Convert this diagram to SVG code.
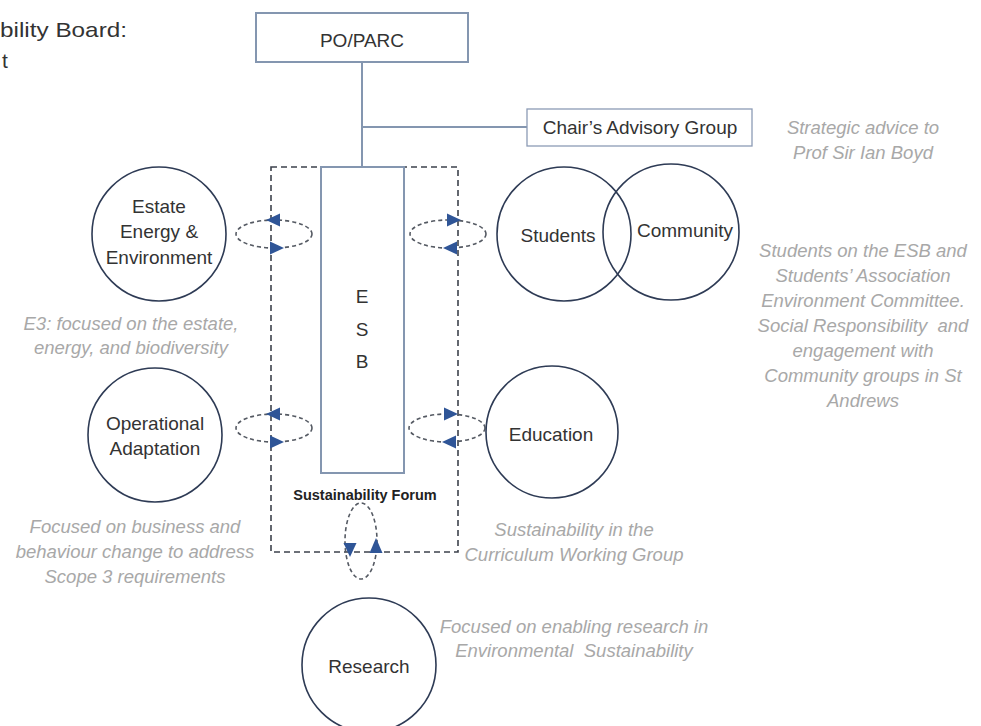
<svg xmlns="http://www.w3.org/2000/svg" width="981" height="726" viewBox="0 0 981 726">
<style>
.lbl{font-family:"Liberation Sans",Arial,sans-serif;font-size:19px;fill:#333;text-anchor:middle}
.note{font-family:"Liberation Sans",Arial,sans-serif;font-size:18.5px;font-style:italic;fill:#a8a8a8;text-anchor:middle}
.circ{fill:none;stroke:#2e3b55;stroke-width:1.6}
.box{fill:#fff;stroke:#8496b0;stroke-width:2}
.conn{stroke:#8496b0;stroke-width:2;fill:none}
.dbox{fill:none;stroke:#3d424c;stroke-width:1.6;stroke-dasharray:6 4}
.loop{fill:none;stroke:#555a63;stroke-width:1.6;stroke-dasharray:4 3}
.arr{fill:#2f5597}
</style>
<rect width="981" height="726" fill="#fff"/>
<g id="title">
<text x="0" y="37" font-family="Liberation Sans,Arial,sans-serif" font-size="21" fill="#333" textLength="127" lengthAdjust="spacingAndGlyphs">bility Board:</text>
<text x="2" y="68" font-family="Liberation Sans,Arial,sans-serif" font-size="21" fill="#333">t</text>
</g>
<g id="forum">
<rect class="dbox" x="271" y="167" width="187" height="385"/>
<text x="365" y="500" font-family="Liberation Sans,Arial,sans-serif" font-size="14.5" font-weight="bold" fill="#222" text-anchor="middle">Sustainability Forum</text>
</g>
<g id="connectors">
<line class="conn" x1="362" y1="62" x2="362" y2="167"/>
<line class="conn" x1="362" y1="127" x2="527" y2="127"/>
<ellipse class="loop" cx="274" cy="234" rx="38" ry="14"/>
<polygon class="arr" points="266,220 280,213.5 280,226.5"/>
<polygon class="arr" points="284,248 270,241.5 270,254.5"/>
<ellipse class="loop" cx="448" cy="234" rx="38" ry="14"/>
<polygon class="arr" points="461,220 447,213.5 447,226.5"/>
<polygon class="arr" points="443,248 457,241.5 457,254.5"/>
<ellipse class="loop" cx="274" cy="428" rx="38" ry="14"/>
<polygon class="arr" points="266,414 280,407.5 280,420.5"/>
<polygon class="arr" points="284,442 270,435.5 270,448.5"/>
<ellipse class="loop" cx="447" cy="428" rx="38" ry="14"/>
<polygon class="arr" points="458,414 444,407.5 444,420.5"/>
<polygon class="arr" points="442,442 456,435.5 456,448.5"/>
<ellipse class="loop" cx="361" cy="541" rx="16" ry="38"/>
<polygon class="arr" points="350,557 343.5,543 356.5,543"/>
<polygon class="arr" points="376,538 369.5,553 382.5,553"/>
</g>
<g id="po-parc">
<rect class="box" x="256" y="13" width="212" height="49"/>
<text class="lbl" x="362" y="47">PO/PARC</text>
</g>
<g id="chairs-advisory">
<rect x="527" y="109" width="225" height="37" fill="#fff" stroke="#8c9bb5" stroke-width="1.3"/>
<text class="lbl" x="640" y="134">Chair’s Advisory Group</text>
<text class="note" x="863" y="134">Strategic advice to</text>
<text class="note" x="863" y="159">Prof Sir Ian Boyd</text>
</g>
<g id="esb">
<rect class="box" x="321" y="167" width="83" height="306"/>
<text class="lbl" x="362" y="303" font-size="20">E</text>
<text class="lbl" x="362" y="336" font-size="20">S</text>
<text class="lbl" x="362" y="368" font-size="20">B</text>
</g>
<g id="estate">
<circle class="circ" cx="159" cy="234" r="67"/>
<text class="lbl" x="159" y="213">Estate</text>
<text class="lbl" x="159" y="238">Energy &amp;</text>
<text class="lbl" x="159" y="264">Environment</text>
<text class="note" x="131" y="330">E3: focused on the estate,</text>
<text class="note" x="131" y="354">energy, and biodiversity</text>
</g>
<g id="students">
<circle class="circ" cx="564" cy="234" r="67"/>
<text class="lbl" x="558" y="242">Students</text>
</g>
<g id="community">
<circle class="circ" cx="671" cy="232" r="68"/>
<text class="lbl" x="685" y="237">Community</text>
<text class="note" x="863" y="257">Students on the ESB and</text>
<text class="note" x="863" y="282">Students’ Association</text>
<text class="note" x="863" y="307">Environment Committee.</text>
<text class="note" x="863" y="332" xml:space="preserve">Social Responsibility  and</text>
<text class="note" x="863" y="357">engagement with</text>
<text class="note" x="863" y="382">Community groups in St</text>
<text class="note" x="863" y="407">Andrews</text>
</g>
<g id="operational">
<circle class="circ" cx="155" cy="435" r="67"/>
<text class="lbl" x="155" y="430">Operational</text>
<text class="lbl" x="155" y="455">Adaptation</text>
<text class="note" x="135" y="533">Focused on business and</text>
<text class="note" x="135" y="558">behaviour change to address</text>
<text class="note" x="135" y="583">Scope 3 requirements</text>
</g>
<g id="education">
<circle class="circ" cx="552" cy="432" r="66"/>
<text class="lbl" x="551" y="441">Education</text>
<text class="note" x="574" y="536">Sustainability in the</text>
<text class="note" x="574" y="561">Curriculum Working Group</text>
</g>
<g id="research">
<circle class="circ" cx="369" cy="665" r="67"/>
<text class="lbl" x="369" y="673">Research</text>
<text class="note" x="574" y="633">Focused on enabling research in</text>
<text class="note" x="574" y="657" xml:space="preserve">Environmental  Sustainability</text>
</g>
</svg>
